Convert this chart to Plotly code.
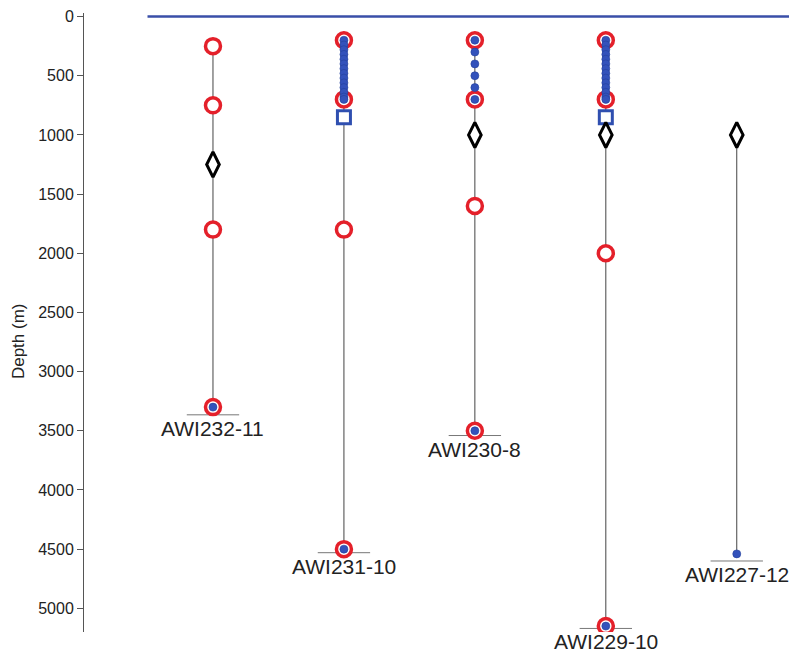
import plotly.graph_objects as go

# Mooring names and x positions
moorings = ["AWI232-11", "AWI231-10", "AWI230-8", "AWI229-10", "AWI227-12"]
mooring_x = [1, 2, 3, 4, 5]

# Vertical line extents (top, bottom of instruments) in metres
line_top = [250, 200, 200, 200, 1000]
line_bottom = [3300, 4500, 3500, 5150, 4540]

# Sea-floor depth markers (short horizontal bar) and label anchors
floor_depth = [3365, 4530, 3540, 5170, 4600]

# Red circles (depths per mooring)
circle_depths = [
    [250, 750, 1800, 3300],
    [200, 700, 1800, 4500],
    [200, 700, 1600, 3500],
    [200, 700, 2000, 5150],
    [],
]

# Blue dots (depths per mooring)
dot_depths = [
    [3300],
    [200, 240, 280, 320, 360, 400, 440, 480, 520, 560, 600, 640, 680, 700, 4500],
    [200, 300, 400, 500, 600, 700, 3500],
    [200, 240, 280, 320, 360, 400, 440, 480, 520, 560, 600, 640, 680, 700, 5150],
    [4540],
]

# Blue squares
square_depths = [[], [850], [], [850], []]

# Black diamonds
diamond_depths = [[1250], [], [1000], [1000], [1000]]

# Surface line
surface_x = [0.5, 5.5]
surface_y = [0, 0]

y_ticks = [0, 500, 1000, 1500, 2000, 2500, 3000, 3500, 4000, 4500, 5000]

FONT = "Arial, Liberation Sans, sans-serif"

fig = go.Figure()

fig.add_trace(go.Scatter(x=surface_x, y=surface_y, mode="lines",
                         line=dict(color="#3a4fa8", width=2.5),
                         hoverinfo="skip", showlegend=False))

for i, mx in enumerate(mooring_x):
    fig.add_trace(go.Scatter(x=[mx, mx], y=[line_top[i], line_bottom[i]], mode="lines",
                             line=dict(color="#444444", width=1),
                             showlegend=False, hoverinfo="skip"))
    fig.add_trace(go.Scatter(x=[mx - 0.2, mx + 0.2], y=[floor_depth[i], floor_depth[i]],
                             mode="lines", line=dict(color="#777777", width=1),
                             showlegend=False, hoverinfo="skip"))

for i, mx in enumerate(mooring_x):
    if square_depths[i]:
        fig.add_trace(go.Scatter(x=[mx] * len(square_depths[i]), y=square_depths[i],
                                 mode="markers",
                                 marker=dict(symbol="square", size=13, color="white",
                                             line=dict(color="#2f4fb0", width=3)),
                                 showlegend=False))
    if diamond_depths[i]:
        fig.add_trace(go.Scatter(x=[mx] * len(diamond_depths[i]), y=diamond_depths[i],
                                 mode="markers",
                                 marker=dict(symbol="diamond-tall", size=18, color="white",
                                             line=dict(color="black", width=3)),
                                 showlegend=False))
    if circle_depths[i]:
        fig.add_trace(go.Scatter(x=[mx] * len(circle_depths[i]), y=circle_depths[i],
                                 mode="markers",
                                 marker=dict(symbol="circle", size=15, color="white",
                                             line=dict(color="#e4202a", width=3.5)),
                                 showlegend=False))
    if dot_depths[i]:
        fig.add_trace(go.Scatter(x=[mx] * len(dot_depths[i]), y=dot_depths[i],
                                 mode="markers",
                                 marker=dict(symbol="circle", size=8, color="#3352bb",
                                             line=dict(width=0.6, color="#243f9a")),
                                 showlegend=False))

for i, mx in enumerate(mooring_x):
    fig.add_annotation(x=mx, y=floor_depth[i], text=moorings[i], showarrow=False,
                       yanchor="top", xanchor="center", yshift=0,
                       font=dict(family=FONT, size=21, color="#222222"))

fig.add_annotation(xref="paper", yref="paper", x=(10 - 76) / 713, y=0.47,
                   xanchor="center", yanchor="middle", text="Depth (m)", textangle=-90,
                   showarrow=False, font=dict(family=FONT, size=17, color="#222222"))

fig.update_layout(
    width=789, height=647,
    margin=dict(l=76, r=0, t=5, b=23, autoexpand=False),
    plot_bgcolor="white", paper_bgcolor="white",
    font=dict(family=FONT, color="#222222"),
    xaxis=dict(range=[0.015, 5.46], visible=False, automargin=False),
    yaxis=dict(range=[5200, -30], tickvals=y_ticks, ticktext=[str(v) for v in y_ticks],
               showgrid=False, zeroline=False, showline=True, linecolor="#555555",
               linewidth=1, ticks="outside", ticklen=6, tickcolor="#555555",
               tickfont=dict(size=16), automargin=False),
)

fig.write_html("out.html")
